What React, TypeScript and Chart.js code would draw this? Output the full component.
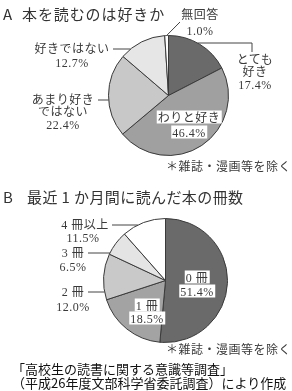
import React, { useEffect, useRef } from "react";
import { Chart, registerables } from "chart.js";

Chart.register(...registerables);

// ---- data ----
const likeCategories = ["とても好き", "わりと好き", "あまり好きではない", "好きではない", "無回答"];
const likeValues = [17.4, 46.4, 22.4, 12.7, 1.0];
const likeColors = ["#6a6a6a", "#a0a0a0", "#c8c8c8", "#e6e6e6", "#ffffff"];

const bookCategories = ["0冊", "1冊", "2冊", "3冊", "4冊以上"];
const bookValues = [51.4, 18.5, 12.0, 6.5, 11.5];
const bookColors = ["#6a6a6a", "#a3a3a3", "#c9c9c9", "#e4e4e4", "#ffffff"];

const pct = (v: number) => `${v.toFixed(1)}%`;

type Leader = { index: number; pts: [number, number][]; end: "left" | "right" | "mid" };

const leaderPlugin = {
  id: "leaders",
  afterDatasetsDraw(chart: any, _args: any, opts: any) {
    const leaders: Leader[] = opts.lines || [];
    const offY: number = opts.offsetY || 0;
    const meta = chart.getDatasetMeta(0);
    const ctx = chart.ctx;
    ctx.save();
    ctx.strokeStyle = "#444";
    ctx.lineWidth = 1;
    leaders.forEach((l) => {
      const arc = meta.data[l.index] as any;
      const cx = arc.x, cy = arc.y, r = arc.outerRadius;
      const pts = l.pts.map(([x, y]) => [x, y - offY]);
      let ex: number, ey: number;
      if (l.end === "mid") {
        const a = (arc.startAngle + arc.endAngle) / 2;
        ex = cx + r * Math.cos(a);
        ey = cy + r * Math.sin(a);
      } else {
        ey = pts[pts.length - 1][1];
        const dx = Math.sqrt(Math.max(r * r - (ey - cy) * (ey - cy), 0));
        ex = l.end === "left" ? cx - dx : cx + dx;
      }
      ctx.beginPath();
      ctx.moveTo(pts[0][0], pts[0][1]);
      for (let i = 1; i < pts.length; i++) ctx.lineTo(pts[i][0], pts[i][1]);
      ctx.lineTo(ex, ey);
      ctx.stroke();
    });
    ctx.restore();
  },
};

function PieChart(props: {
  top: number;
  height: number;
  values: number[];
  labels: string[];
  colors: string[];
  padding: { left: number; right: number; top: number; bottom: number };
  leaders: Leader[];
}) {
  const ref = useRef<HTMLCanvasElement | null>(null);
  useEffect(() => {
    if (!ref.current) return;
    const chart = new Chart(ref.current, {
      type: "pie",
      data: {
        labels: props.labels,
        datasets: [
          {
            data: props.values,
            backgroundColor: props.colors,
            borderColor: "#3a3a3a",
            borderWidth: 1,
          },
        ],
      },
      options: {
        responsive: false,
        animation: false,
        devicePixelRatio: 1,
        layout: { padding: props.padding },
        plugins: {
          legend: { display: false },
          tooltip: { enabled: false },
          leaders: { lines: props.leaders, offsetY: props.top },
        } as any,
      },
      plugins: [leaderPlugin],
    });
    return () => chart.destroy();
  }, []);
  return (
    <canvas
      ref={ref}
      width={292}
      height={props.height}
      style={{ position: "absolute", left: 0, top: props.top, width: 292, height: props.height }}
    />
  );
}

const labelFont = '"Liberation Serif", "Noto Sans CJK JP", serif';
const gothic = '"Noto Sans CJK JP", "Liberation Sans", sans-serif';

function T(props: { x: number; y: number; text: string; box?: boolean; align?: "c" | "l" | "r"; font?: string; size?: number; color?: string; spacing?: number }) {
  const align = props.align || "c";
  const tx = align === "c" ? "-50%" : align === "r" ? "-100%" : "0";
  return (
    <div
      style={{
        position: "absolute",
        left: props.x,
        top: props.y,
        transform: `translate(${tx}, -50%)`,
        whiteSpace: "nowrap",
        fontFamily: props.font || labelFont,
        fontSize: props.size || 12,
        letterSpacing: props.spacing ?? 0.5,
        lineHeight: 1,
        color: props.color || "#3a3a3a",
        background: props.box ? "#fff" : "transparent",
        padding: props.box ? "1px 1px 0 1px" : 0,
      }}
    >
      {props.text}
    </div>
  );
}

export default function App() {
  const likeLeaders: Leader[] = [
    { index: 4, pts: [[180, 22]], end: "mid" },
    { index: 0, pts: [[252, 52], [252, 43]], end: "right" },
    { index: 3, pts: [[113, 49]], end: "left" },
    { index: 2, pts: [[98, 100]], end: "left" },
  ];
  const bookLeaders: Leader[] = [
    { index: 4, pts: [[112, 225]], end: "left" },
    { index: 3, pts: [[88, 253]], end: "left" },
    { index: 2, pts: [[88, 292]], end: "left" },
  ];
  return (
    <div style={{ position: "absolute", left: 0, top: 0, width: 292, height: 391, background: "#fff", overflow: "hidden" }}>
      <PieChart
        top={0}
        height={180}
        values={likeValues}
        labels={likeCategories}
        colors={likeColors}
        padding={{ left: 108, right: 63, top: 35, bottom: 24 }}
        leaders={likeLeaders}
      />
      <PieChart
        top={190}
        height={170}
        values={bookValues}
        labels={bookCategories}
        colors={bookColors}
        padding={{ left: 103, right: 64, top: 28, bottom: 17 }}
        leaders={bookLeaders}
      />

      {/* titles */}
      <T x={3} y={13} align="l" text="A" font={gothic} size={15} spacing={0} color="#333" />
      <T x={22} y={13} align="l" text="本を読むのは好きか" font={gothic} size={15} spacing={0.9} color="#333" />
      <T x={3} y={196} align="l" text="B" font={gothic} size={15} spacing={0} color="#333" />
      <T x={27} y={196} align="l" text="最近 1 か月間に読んだ本の冊数" font={gothic} size={15} spacing={0.4} color="#333" />

      {/* A labels */}
      <T x={200} y={15} text="無回答" />
      <T x={200} y={31} text={pct(likeValues[4])} />
      <T x={255} y={60} text="とても" />
      <T x={255} y={72} text="好き" />
      <T x={255} y={85} text={pct(likeValues[0])} />
      <T x={72} y={49} text="好きではない" />
      <T x={72} y={63} text={pct(likeValues[3])} />
      <T x={63} y={100} text="あまり好き" />
      <T x={63} y={112} text="ではない" />
      <T x={63} y={125} text={pct(likeValues[2])} />
      <T x={189} y={117} text="わりと好き" box />
      <T x={189} y={132} text={pct(likeValues[1])} box />
      <T x={291} y={167} align="r" text="＊雑誌・漫画等を除く" />

      {/* B labels */}
      <T x={85} y={225} text="4 冊以上" />
      <T x={83} y={238} text={pct(bookValues[4])} />
      <T x={73} y={253} text="3 冊" />
      <T x={73} y={267} text={pct(bookValues[3])} />
      <T x={73} y={292} text="2 冊" />
      <T x={73} y={307} text={pct(bookValues[2])} />
      <T x={197} y={277} text="0 冊" box />
      <T x={197} y={291} text={pct(bookValues[0])} box />
      <T x={147} y={305} text="1 冊" box />
      <T x={147} y={318} text={pct(bookValues[1])} box />
      <T x={291} y={350} align="r" text="＊雑誌・漫画等を除く" />

      {/* source */}
      <T x={12} y={368} align="l" text="「高校生の読書に関する意識等調査」" font={gothic} size={13} spacing={0} color="#111" />
      <T x={12} y={382} align="l" text="（平成26年度文部科学省委託調査）により作成" font={gothic} size={13} spacing={0} color="#111" />
    </div>
  );
}
